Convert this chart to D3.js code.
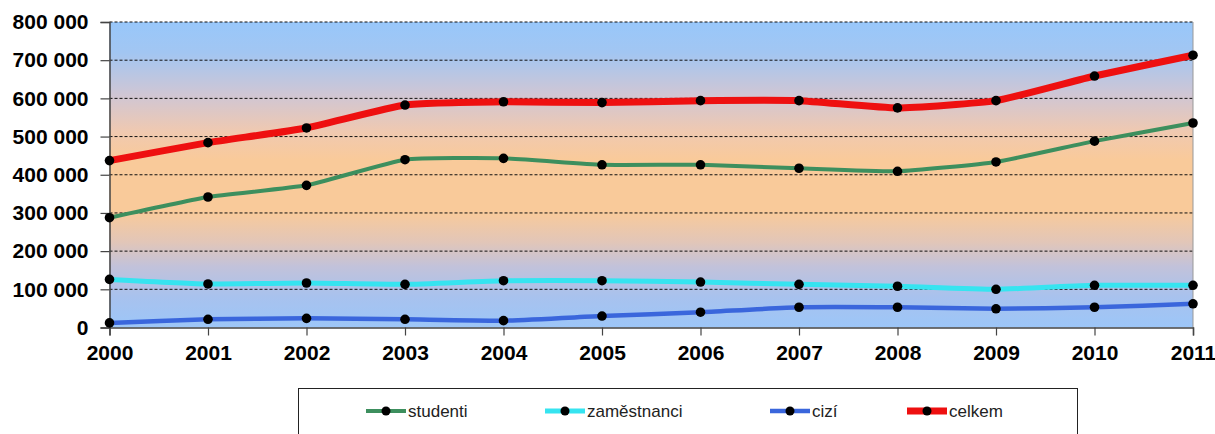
<!DOCTYPE html>
<html><head><meta charset="utf-8">
<script src="https://cdn.jsdelivr.net/npm/d3@7"></script>
<style>
html,body{margin:0;padding:0;background:#fff;}
svg{display:block;}
</style></head>
<body>
<svg id="chart" width="1215" height="434"></svg>
<script>
const years = [2000, 2001, 2002, 2003, 2004, 2005, 2006, 2007, 2008, 2009, 2010, 2011];
const studenti = [287500, 341700, 372300, 439400, 443000, 426000, 426000, 417000, 409000, 433500, 488000, 535500];
const zamestnanci = [126000, 114000, 116500, 113000, 122500, 122500, 119000, 113000, 108000, 100000, 110500, 110500];
const cizi = [12000, 21500, 24000, 21500, 18000, 30000, 40000, 53000, 53000, 49000, 53000, 62000];
const celkem = [437000, 484000, 522500, 582500, 591000, 589000, 594000, 594000, 575000, 594000, 658500, 713000];
const yTicks = [0, 100000, 200000, 300000, 400000, 500000, 600000, 700000, 800000];
const seriesNames = ["studenti", "zaměstnanci", "cizí", "celkem"];
const seriesValues = [studenti, zamestnanci, cizi, celkem];
const seriesColors = ["#3d8f5e", "#36e4f0", "#3a66dc", "#ee1010"];
const seriesWidths = [4, 5, 4.5, 7];

const svg = d3.select("#chart");
const pL = 109.5, pR = 1193, pT = 22, pB = 327.5;
const x = d3.scalePoint().domain(years).range([pL, pR]);
const y = d3.scaleLinear().domain([0, 800000]).range([pB, pT]);
const fmt = d3.formatLocale({decimal: ",", thousands: " ", grouping: [3], currency: ["", ""]}).format(",");

// background gradient
const defs = svg.append("defs");
const grad = defs.append("linearGradient").attr("id", "bg").attr("x1", 0).attr("y1", 0).attr("x2", 0).attr("y2", 1);
[[0, "#98c7fa"], [0.1, "#a2c6f2"], [0.24, "#d0c6d4"], [0.36, "#f0c9b0"], [0.45, "#f9ca9a"], [0.62, "#f9ca9a"], [0.72, "#e2c6b8"], [0.8, "#c2c2da"], [0.9, "#a8c2ee"], [1, "#9cc6f8"]]
  .forEach(([o, c]) => grad.append("stop").attr("offset", o).attr("stop-color", c));
svg.append("rect").attr("x", pL).attr("y", pT).attr("width", pR - pL).attr("height", pB - pT).attr("fill", "url(#bg)");

// gridlines
svg.append("g").selectAll("line").data(yTicks.filter(d => d > 0)).join("line")
  .attr("x1", pL).attr("x2", pR).attr("y1", d => y(d)).attr("y2", d => y(d))
  .attr("stroke", "#111").attr("stroke-width", 1).attr("stroke-dasharray", "3,2");

// right border
svg.append("line").attr("x1", pR).attr("x2", pR).attr("y1", pT).attr("y2", pB)
  .attr("stroke", "#999").attr("stroke-width", 1);

// y axis
const yAxis = svg.append("g").attr("transform", `translate(${pL},0)`)
  .call(d3.axisLeft(y).tickValues(yTicks).tickFormat(fmt).tickSize(9).tickPadding(12));
yAxis.select(".domain").attr("stroke", "#444").attr("stroke-width", 1.5);
yAxis.selectAll(".tick line").attr("stroke", "#444").attr("stroke-width", 1.2);
yAxis.selectAll("text").attr("font-family", "Liberation Sans, Arial, sans-serif").attr("font-size", 21)
  .attr("font-weight", "bold").attr("fill", "#000");

// x axis
const xAxis = svg.append("g").attr("transform", `translate(0,${pB})`)
  .call(d3.axisBottom(x).tickSize(8).tickPadding(10).tickFormat(d => String(d)));
xAxis.select(".domain").attr("stroke", "#444").attr("stroke-width", 1.5);
xAxis.selectAll(".tick line").attr("stroke", "#444").attr("stroke-width", 1.2);
xAxis.selectAll("text").attr("font-family", "Liberation Sans, Arial, sans-serif").attr("font-size", 21)
  .attr("font-weight", "bold").attr("fill", "#000");

// lines
const line = d3.line().x((d, i) => x(years[i])).y(d => y(d)).curve(d3.curveCardinal.tension(0.55));
seriesValues.forEach((vals, k) => {
  svg.append("path").datum(vals).attr("d", line).attr("fill", "none")
    .attr("stroke", seriesColors[k]).attr("stroke-width", seriesWidths[k]).attr("stroke-linejoin", "round");
});
seriesValues.forEach((vals) => {
  svg.append("g").selectAll("circle").data(vals).join("circle")
    .attr("cx", (d, i) => x(years[i])).attr("cy", d => y(d)).attr("r", 4.8).attr("fill", "#000");
});

// legend
svg.append("rect").attr("x", 298.5).attr("y", 388.5).attr("width", 779).attr("height", 60)
  .attr("fill", "#fff").attr("stroke", "#222").attr("stroke-width", 1);
const legX = [366, 545, 770, 907];
seriesNames.forEach((name, k) => {
  const g = svg.append("g").attr("transform", `translate(${legX[k]},411)`);
  g.append("line").attr("x1", 0).attr("x2", 40).attr("y1", 0).attr("y2", 0)
    .attr("stroke", seriesColors[k]).attr("stroke-width", seriesWidths[k]);
  g.append("circle").attr("cx", 20).attr("cy", 0).attr("r", 4.5).attr("fill", "#000");
  g.append("text").attr("x", 42).attr("y", 6).text(name)
    .attr("font-family", "Liberation Sans, Arial, sans-serif").attr("font-size", 17).attr("fill", "#222");
});
</script>
</body></html>
